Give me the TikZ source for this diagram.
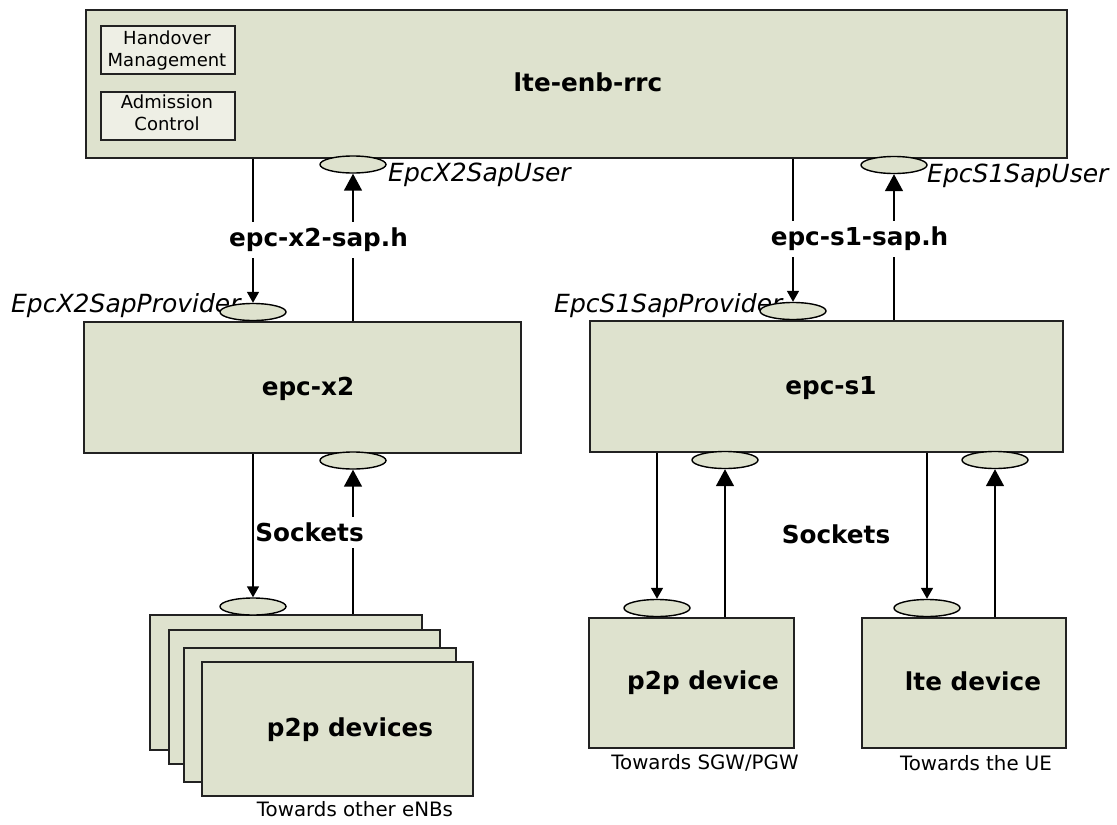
\documentclass[tikz,border=0pt]{standalone}
\usepackage{fontspec}
\setmainfont{DejaVu Sans}
\usetikzlibrary{shapes.geometric,arrows.meta}
\definecolor{boxfill}{RGB}{222,226,206}
\definecolor{subfill}{RGB}{238,239,229}
\definecolor{edge}{RGB}{34,34,34}
\begin{document}
\begin{tikzpicture}[x=1pt,y=-1pt,
  blk/.style={draw=edge,line width=1.8pt,fill=boxfill,anchor=north west,inner sep=0pt},
  subblk/.style={draw=edge,line width=1.6pt,fill=subfill,anchor=north west,inner sep=0pt},
  subtxt/.style={font=\fontsize{18}{22}\selectfont,anchor=base,inner sep=0pt},
  sap/.style={ellipse,draw=black,line width=1.4pt,fill=boxfill,minimum width=66pt,minimum height=17pt,inner sep=0pt},
  bigtxt/.style={font=\fontsize{24.7}{28}\bfseries\selectfont,anchor=base,inner sep=0pt},
  itxt/.style={font=\fontsize{25}{28}\itshape\selectfont,anchor=base west,inner sep=0pt},
  smtxt/.style={font=\fontsize{19.8}{23}\selectfont,anchor=base,inner sep=0pt},
  lbl/.style={font=\fontsize{24.7}{28}\bfseries\selectfont,fill=white,inner xsep=1pt,inner ysep=6pt},
  dnarrow/.style={line width=1.5pt,-{Triangle[width=12pt,length=11pt]}},
  uparrow/.style={line width=1.6pt,-{Triangle[width=18pt,length=17pt]}}
]
\useasboundingbox (0,0) rectangle (1117,825);

% lte-enb-rrc
\node[blk,minimum width=981pt,minimum height=148pt] (rrc) at (85,9) {};
\node[bigtxt] (rrct) at (588,91.5) {lte-enb-rrc};
\node[subblk,minimum width=134pt,minimum height=48pt] (ho) at (100,25) {};
\node[subtxt] (hot1) at (167,44) {Handover};
\node[subtxt] (hot2) at (167,66) {Management};
\node[subblk,minimum width=134pt,minimum height=48pt] (ac) at (100,91) {};
\node[subtxt] (act1) at (167,108) {Admission};
\node[subtxt] (act2) at (167,130) {Control};

% epc-x2 and epc-s1
\node[blk,minimum width=437pt,minimum height=131pt] (x2) at (83,321) {};
\node[bigtxt] (x2t) at (308,395) {epc-x2};
\node[blk,minimum width=473pt,minimum height=131pt] (s1) at (589,320) {};
\node[bigtxt] (s1t) at (831,394) {epc-s1};

% SAP labels
\node[itxt] (x2provt) at (11,312) {EpcX2SapProvider};
\node[itxt] (s1provt) at (554,312) {EpcS1SapProvider};
\node[itxt] (x2usert) at (388,181) {EpcX2SapUser};
\node[itxt] (s1usert) at (927,182) {EpcS1SapUser};

% SAP ellipses
\node[sap] (x2user) at (353,164.5) {};
\node[sap] (x2prov) at (253,312) {};
\node[sap] (s1user) at (894,165) {};
\node[sap] (s1prov) at (793,311) {};

% SAP arrows
\draw[dnarrow] (x2prov.north |- rrc.south) -- (x2prov.north);
\draw[uparrow] (x2user.south |- x2.north) -- (x2user.south);
\draw[dnarrow] (s1prov.north |- rrc.south) -- (s1prov.north);
\draw[uparrow] (s1user.south |- s1.north) -- (s1user.south);
\node[lbl] (x2sap) at (318.5,240) {epc-x2-sap.h};
\node[lbl] (s1sap) at (859.5,239) {epc-s1-sap.h};

% p2p devices stack
\node[blk,minimum width=272pt,minimum height=135pt] (d1) at (149,614) {};
\node[blk,minimum width=271pt,minimum height=134pt] (d2) at (168,629) {};
\node[blk,minimum width=272pt,minimum height=134pt] (d3) at (183,647) {};
\node[blk,minimum width=271pt,minimum height=134pt] (d4) at (201,661) {};
\node[bigtxt] (d4t) at (350,736.5) {p2p devices};
\node[smtxt] (d4c) at (355,816) {Towards other eNBs};

\node[sap] (x2sock) at (353,460.5) {};
\node[sap] (d1sock) at (253,606.5) {};
\draw[uparrow] (x2sock.south |- d1.north) -- (x2sock.south);
\node[lbl] (sockl) at (309.5,532.5) {Sockets};
\draw[dnarrow] (d1sock.north |- x2.south) -- (d1sock.north);

% p2p device
\node[blk,minimum width=205pt,minimum height=130pt] (pd) at (588,617) {};
\node[bigtxt] (pdt) at (703,689) {p2p device};
\node[smtxt] (pdc) at (705,769) {Towards SGW/PGW};
\node[sap] (s1sockA) at (725,460) {};
\node[sap] (pdsock) at (657,608) {};
\draw[dnarrow] (pdsock.north |- s1.south) -- (pdsock.north);
\draw[uparrow] (s1sockA.south |- pd.north) -- (s1sockA.south);

% lte device
\node[blk,minimum width=204pt,minimum height=130pt] (ld) at (861,617) {};
\node[bigtxt] (ldt) at (973,690) {lte device};
\node[smtxt] (ldc) at (976,770.5) {Towards the UE};
\node[sap] (s1sockB) at (995,460) {};
\node[sap] (ldsock) at (927,608) {};
\draw[dnarrow] (ldsock.north |- s1.south) -- (ldsock.north);
\draw[uparrow] (s1sockB.south |- ld.north) -- (s1sockB.south);

\node[bigtxt] (sockr) at (836,543) {Sockets};
\end{tikzpicture}
\end{document}
